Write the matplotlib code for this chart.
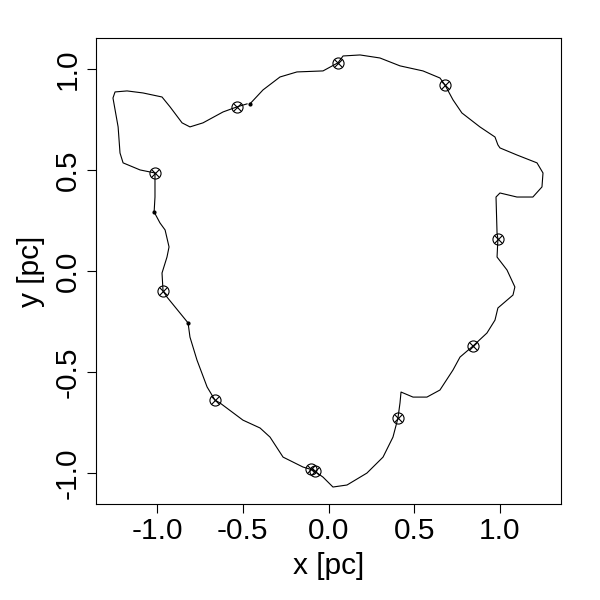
import matplotlib
matplotlib.use("Agg")
import matplotlib.pyplot as plt

plt.rcParams.update({
    "font.family": ["Liberation Sans", "DejaVu Sans"],
    "font.size": 15,
})

# orbit track (pc)
track_x = [-0.458, -0.382, -0.283, -0.184, -0.032, 0.055, 0.085, 0.184, 0.300, 0.417,
           0.551, 0.650, 0.679, 0.726, 0.778, 0.883, 0.971, 0.988, 1.000, 1.099,
           1.216, 1.251, 1.245, 1.192, 1.099, 1.000, 0.977, 0.983, 0.988, 0.983,
           1.041, 1.087, 1.076, 0.988, 0.971, 0.924, 0.843, 0.767, 0.726, 0.650,
           0.574, 0.493, 0.423, 0.417, 0.405, 0.376, 0.318, 0.224, 0.108, 0.026,
           -0.032, -0.090, -0.149, -0.265, -0.341, -0.399, -0.499, -0.633, -0.662, -0.708,
           -0.767, -0.808, -0.819, -0.942, -0.965, -0.971, -0.942, -0.930, -0.953, -0.983,
           -1.017, -1.012, -1.012, -1.012, -1.099, -1.198, -1.216, -1.227, -1.257, -1.245,
           -1.175, -1.082, -0.971, -0.924, -0.854, -0.808, -0.732, -0.615, -0.534, -0.475]
track_y = [0.827, 0.896, 0.960, 0.985, 0.990, 1.030, 1.064, 1.069, 1.054, 1.015,
           0.990, 0.955, 0.921, 0.847, 0.782, 0.713, 0.663, 0.624, 0.609, 0.574,
           0.535, 0.485, 0.416, 0.366, 0.366, 0.386, 0.366, 0.188, 0.158, 0.069,
           0.005, -0.079, -0.119, -0.183, -0.243, -0.307, -0.371, -0.426, -0.490, -0.589,
           -0.624, -0.624, -0.599, -0.653, -0.728, -0.822, -0.921, -1.000, -1.059, -1.069,
           -1.020, -0.985, -0.970, -0.921, -0.822, -0.777, -0.738, -0.653, -0.639, -0.574,
           -0.441, -0.327, -0.257, -0.129, -0.099, -0.010, 0.069, 0.119, 0.203, 0.238,
           0.292, 0.366, 0.465, 0.485, 0.500, 0.535, 0.584, 0.713, 0.856, 0.886,
           0.891, 0.881, 0.861, 0.812, 0.733, 0.713, 0.733, 0.787, 0.812, 0.827]

# observed positions (circle with cross)
obs_x = [0.055, 0.679, 0.988, 0.843, 0.405, -0.100, -0.080, -0.662, -0.965, -1.012, -0.534]
obs_y = [1.030, 0.921, 0.158, -0.371, -0.728, -0.980, -0.990, -0.639, -0.099, 0.485, 0.812]

# segment end points
end_x = [-0.458, -1.017, -0.819]
end_y = [0.827, 0.292, -0.257]

fig = plt.figure(figsize=(6, 6), dpi=100)
ax = fig.add_axes([0.16, 0.16, 0.775, 0.7767])

ax.plot(track_x, track_y, color="black", lw=0.8, solid_joinstyle="round")
ax.plot(end_x, end_y, ls="none", marker="o", ms=2, color="black")
ax.plot(obs_x, obs_y, ls="none", marker="o", ms=8, mfc="none", mec="black", mew=0.8)
ax.plot(obs_x, obs_y, ls="none", marker="x", ms=5.8, color="black", mew=0.8)

ax.set_xlim(-1.356, 1.356)
ax.set_ylim(-1.153, 1.153)
ax.set_xticks([-1.0, -0.5, 0.0, 0.5, 1.0])
ax.set_yticks([-1.0, -0.5, 0.0, 0.5, 1.0])
ax.set_xticklabels(["-1.0", "-0.5", "0.0", "0.5", "1.0"])
ax.set_yticklabels(["-1.0", "-0.5", "0.0", "0.5", "1.0"], rotation=90, va="center")
ax.tick_params(direction="out", length=6.5, width=0.8, labelsize=21.5)
ax.tick_params(axis="x", pad=3)
ax.tick_params(axis="y", pad=4)
ax.set_xlabel("x [pc]", fontsize=21.5, labelpad=5)
ax.set_ylabel("y [pc]", fontsize=21.5, labelpad=6)
for s in ax.spines.values():
    s.set_linewidth(0.8)

fig.savefig("out.png", dpi=100)
